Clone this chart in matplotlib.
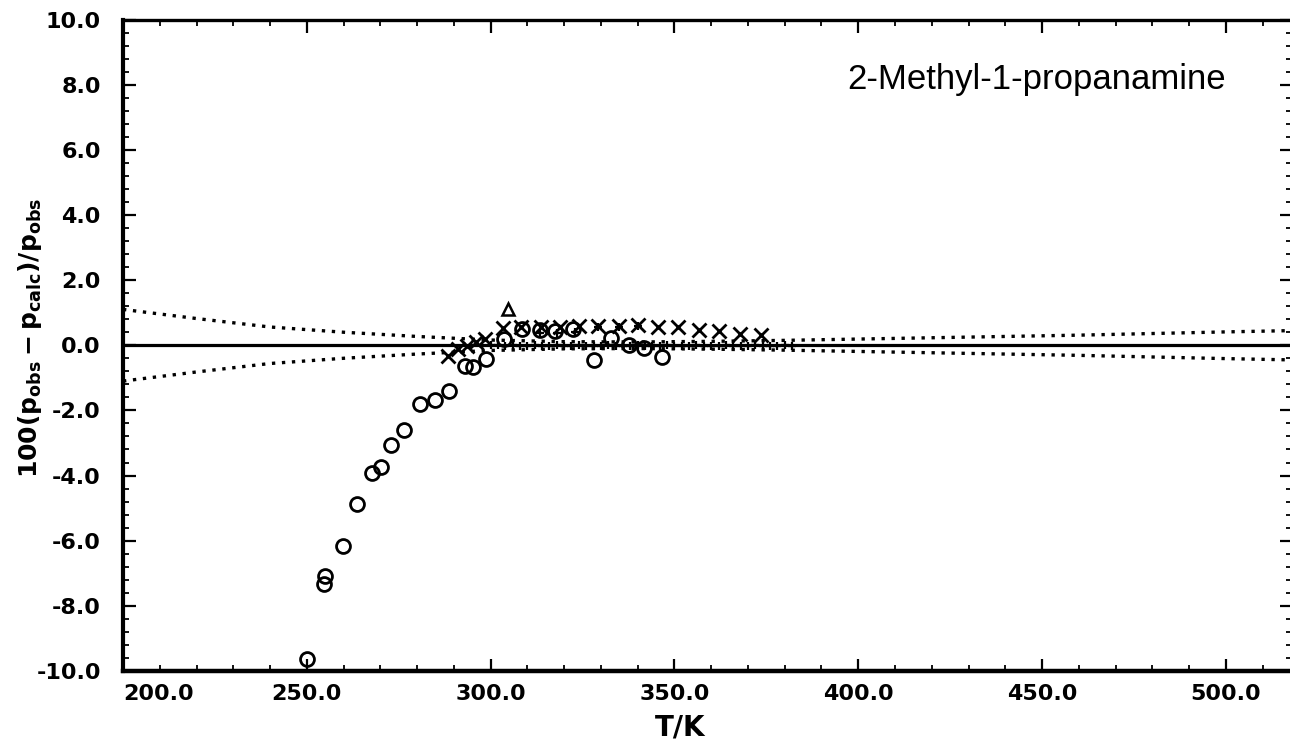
import matplotlib
matplotlib.use("Agg")
import matplotlib.pyplot as plt
from matplotlib.ticker import MultipleLocator

# deviation plot for the vapour pressure fit
envelope_T = [200, 220, 240, 260, 280, 300, 320, 340, 360, 380, 400, 420, 440, 460, 480, 500, 518]
envelope_hi = [1.10, 0.82, 0.56, 0.40, 0.27, 0.16, 0.11, 0.10, 0.12, 0.15, 0.19, 0.23, 0.27, 0.31, 0.36, 0.41, 0.45]
envelope_lo = [-v for v in envelope_hi]

circle_T = [250.0, 255.0, 254.6, 259.9, 263.6, 267.6, 270.3, 272.8, 276.5, 280.7, 284.8, 288.7,
            293.0, 295.2, 298.7, 303.7, 308.6, 313.4, 317.5, 322.4, 328.2, 332.7, 337.7, 341.6, 346.6]
circle_v = [-9.62, -7.08, -7.34, -6.15, -4.86, -3.93, -3.75, -3.07, -2.59, -1.79, -1.69, -1.40,
            -0.63, -0.68, -0.42, 0.19, 0.50, 0.47, 0.45, 0.50, -0.45, 0.22, 0.02, -0.08, -0.35]

cross_T = [288.3, 291.0, 293.7, 296.0, 298.5, 303.3, 308.2, 313.6, 318.8, 324.1, 329.3, 334.9,
           340.2, 345.6, 351.1, 356.7, 362.2, 367.8, 373.5]
cross_v = [-0.32, -0.11, -0.01, 0.09, 0.19, 0.52, 0.57, 0.55, 0.57, 0.60, 0.60, 0.60,
           0.63, 0.57, 0.55, 0.47, 0.43, 0.35, 0.30]

plus_T = [300, 302, 304, 306, 308, 310, 312, 314, 316, 318, 320, 322, 324, 326, 328, 330, 332,
          334, 336, 338, 340, 342, 344, 346, 348, 350, 352, 354, 356, 358, 360, 362, 364, 366,
          368, 370, 372, 374, 376, 378, 380, 382, 313.5, 318.0, 323.0, 329.3, 334.9, 340.2]
plus_v = [0.02, 0.0, -0.02, 0.0, -0.03, -0.02, 0.0, -0.02, -0.03, 0.0, -0.02, -0.03, 0.0, -0.02,
          -0.03, -0.02, 0.0, -0.02, -0.03, -0.02, 0.0, -0.02, -0.03, -0.02, 0.0, -0.02, -0.03,
          -0.02, 0.0, -0.02, -0.03, -0.02, 0.0, -0.02, -0.03, -0.02, 0.0, -0.02, -0.03, -0.02,
          0.0, -0.02, 0.38, 0.38, 0.42, 0.55, 0.55, 0.60]

triangle_T = [304.6]
triangle_v = [1.11]

x_ticks = [200, 250, 300, 350, 400, 450, 500]
y_ticks = [-10, -8, -6, -4, -2, 0, 2, 4, 6, 8, 10]

fig = plt.figure(figsize=(12.9, 7.46), dpi=100)
ax = fig.add_axes([123 / 1290, 1 - 671 / 746, (1292 - 123) / 1290, (671 - 19.5) / 746])

ax.axhline(0, color="black", lw=2.3, zorder=2)
ax.plot(envelope_T, envelope_hi, color="black", lw=2.4, linestyle=(0, (1, 2.0)), zorder=2)
ax.plot(envelope_T, envelope_lo, color="black", lw=2.4, linestyle=(0, (1, 2.0)), zorder=2)

mk = dict(linestyle="none", color="black", mfc="none", mec="black", zorder=3)
ax.plot(circle_T, circle_v, marker="o", ms=10, mew=2.0, **mk)
ax.plot(cross_T, cross_v, marker="x", ms=10, mew=2.0, **mk)
ax.plot(plus_T, plus_v, marker="+", ms=6, mew=1.6, **mk)
ax.plot(triangle_T, triangle_v, marker="^", ms=8.5, mew=1.8, **mk)

ax.set_xlim(200, 518)
ax.set_ylim(-10, 10)

ax.set_xticks(x_ticks, [f"{t:.1f}" for t in x_ticks])
ax.set_yticks(y_ticks, [f"{t:.1f}" for t in y_ticks])
ax.xaxis.set_minor_locator(MultipleLocator(10))
ax.yaxis.set_minor_locator(MultipleLocator(0.4))

ax.tick_params(which="both", direction="in", top=True, right=True)
ax.tick_params(which="major", length=9, width=1.6)
ax.tick_params(which="minor", length=4.5, width=1.3)
ax.tick_params(axis="y", which="major", pad=16)
ax.tick_params(axis="x", which="major", pad=9)
for lab in ax.get_xticklabels() + ax.get_yticklabels():
    lab.set_fontsize(16)
    lab.set_fontweight("bold")
ax.get_xticklabels()[0].set_horizontalalignment("left")

for side, lw in [("left", 3.0), ("bottom", 3.2), ("top", 2.4), ("right", 2.4)]:
    ax.spines[side].set_linewidth(lw)

ax.text(397, 8.15, "2-Methyl-1-propanamine", fontsize=25, family="Liberation Sans",
        ha="left", va="center")

fig.text(680 / 1290, 1 - 728 / 746, "T/K", fontsize=20, fontweight="bold",
         ha="center", va="center")
fig.text(30 / 1290, 1 - 338 / 746, r"$\mathbf{100(p_{obs}-p_{calc})/p_{obs}}$",
         fontsize=18, rotation=90, ha="center", va="center")

fig.savefig("out.png", dpi=100)
